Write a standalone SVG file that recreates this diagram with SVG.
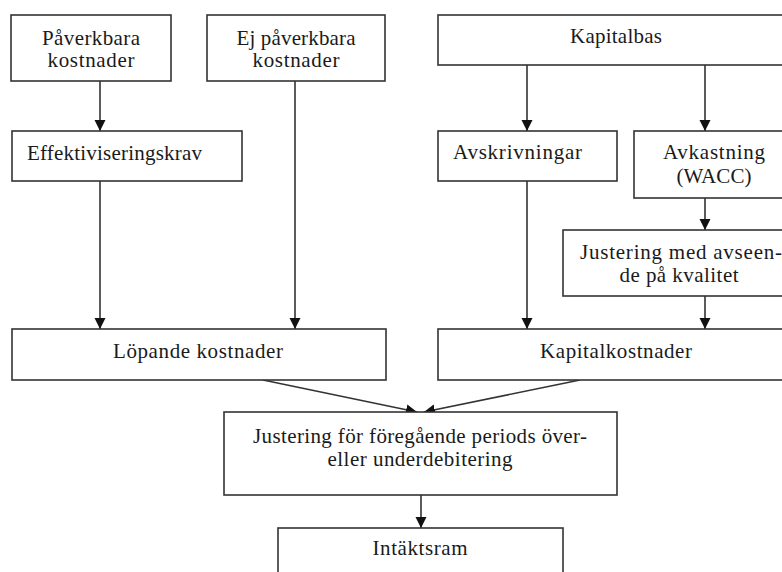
<svg xmlns="http://www.w3.org/2000/svg" width="782" height="572" viewBox="0 0 782 572">
<style>
.box{fill:#fff;stroke:#333;stroke-width:1.6}
.t{font-family:"Liberation Serif","Times New Roman",serif;font-size:21px;fill:#1a1a1a}
.c{text-anchor:middle}
.ln{stroke:#333;stroke-width:1.6;fill:none;marker-end:url(#ah)}
</style>
<defs>
<marker id="ah" markerUnits="userSpaceOnUse" markerWidth="12" markerHeight="12" refX="11" refY="6" orient="auto">
<path d="M0,0.5 L11,6 L0,11.5 z" fill="#111"/>
</marker>
</defs>
<rect width="782" height="572" fill="#fff"/>
<g id="connectors">
<line class="ln" x1="100" y1="81" x2="100" y2="131"/>
<line class="ln" x1="100" y1="181" x2="100" y2="329"/>
<line class="ln" x1="295" y1="81" x2="295" y2="329"/>
<line class="ln" x1="527" y1="65" x2="527" y2="131"/>
<line class="ln" x1="705" y1="65" x2="705" y2="131"/>
<line class="ln" x1="527" y1="181" x2="527" y2="329"/>
<line class="ln" x1="705" y1="198" x2="705" y2="230"/>
<line class="ln" x1="705" y1="296" x2="705" y2="329"/>
<line class="ln" x1="263" y1="380" x2="417" y2="412"/>
<line class="ln" x1="580" y1="380" x2="424" y2="412"/>
<line class="ln" x1="421" y1="495" x2="421" y2="528"/>
</g>
<g id="paverkbara">
<rect class="box" x="11" y="15" width="160" height="66"/>
<text class="t c" x="91" y="45" textLength="98" lengthAdjust="spacing">Påverkbara</text>
<text class="t c" x="91" y="67" textLength="87" lengthAdjust="spacing">kostnader</text>
</g>
<g id="ej-paverkbara">
<rect class="box" x="207" y="15" width="178" height="66"/>
<text class="t c" x="296" y="45" textLength="119" lengthAdjust="spacing">Ej påverkbara</text>
<text class="t c" x="296" y="67" textLength="87" lengthAdjust="spacing">kostnader</text>
</g>
<g id="kapitalbas">
<rect class="box" x="438" y="15" width="360" height="50"/>
<text class="t c" x="616" y="43" textLength="92" lengthAdjust="spacing">Kapitalbas</text>
</g>
<g id="effektiviseringskrav">
<rect class="box" x="12" y="131" width="230" height="50"/>
<text class="t" x="27" y="160" textLength="175" lengthAdjust="spacing">Effektiviseringskrav</text>
</g>
<g id="avskrivningar">
<rect class="box" x="438" y="131" width="179" height="50"/>
<text class="t" x="453" y="159" textLength="129" lengthAdjust="spacing">Avskrivningar</text>
</g>
<g id="avkastning">
<rect class="box" x="634" y="131" width="164" height="67"/>
<text class="t c" x="714" y="159" textLength="102" lengthAdjust="spacing">Avkastning</text>
<text class="t c" x="714" y="183" textLength="75" lengthAdjust="spacing">(WACC)</text>
</g>
<g id="justering-kvalitet">
<rect class="box" x="563" y="230" width="235" height="66"/>
<text class="t c" x="681" y="259" textLength="202" lengthAdjust="spacing">Justering med avseen-</text>
<text class="t c" x="679" y="282" textLength="119" lengthAdjust="spacing">de på kvalitet</text>
</g>
<g id="lopande">
<rect class="box" x="12" y="329" width="374" height="51"/>
<text class="t c" x="198" y="358" textLength="170" lengthAdjust="spacing">Löpande kostnader</text>
</g>
<g id="kapitalkostnader">
<rect class="box" x="438" y="329" width="360" height="51"/>
<text class="t c" x="616" y="358" textLength="152" lengthAdjust="spacing">Kapitalkostnader</text>
</g>
<g id="justering-period">
<rect class="box" x="224" y="412" width="393" height="83"/>
<text class="t c" x="420" y="443" textLength="334" lengthAdjust="spacing">Justering för föregående periods över-</text>
<text class="t c" x="420" y="466" textLength="185" lengthAdjust="spacing">eller underdebitering</text>
</g>
<g id="intaktsram">
<rect class="box" x="278" y="528" width="285" height="60"/>
<text class="t c" x="420" y="555" textLength="95" lengthAdjust="spacing">Intäktsram</text>
</g>
</svg>
